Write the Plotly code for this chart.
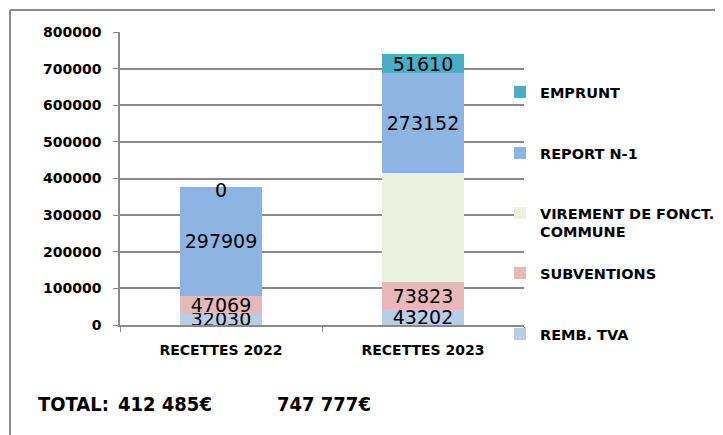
import plotly.graph_objects as go

categories = ["RECETTES 2022", "RECETTES 2023"]
remb_tva = [32030, 43202]
subventions = [47069, 73823]
virement = [0, 298000]
report = [297909, 273152]
emprunt = [0, 51610]
totals = ["412 485€", "747 777€"]
y_tickvals = [0, 100000, 200000, 300000, 400000, 500000, 600000, 700000, 800000]

series = [
    ("REMB. TVA", remb_tva, "#B9CDE5", True),
    ("SUBVENTIONS", subventions, "#E6B9B8", True),
    ("VIREMENT DE FONCT.<br>COMMUNE", virement, "#EBF1DE", False),
    ("REPORT N-1", report, "#8EB4E3", True),
    ("EMPRUNT", emprunt, "#4BACC6", True),
]

W, H = 723, 435
OFF = 8  # the page's body margin shifts the figure by this much
PL, PR, PT, PB = 120, 524, 32, 325  # plot area, in screen pixels


def px_x(px):
    return (px - PL) / (PR - PL)


def px_y(py):
    return (PB - py) / (PB - PT)


GRID = "#8a8a8a"
TXT = "#000000"
legend_y = [335, 274, 214, 154, 93]  # screen rows of legend entries (first line)

fig = go.Figure()
for i, (name, vals, col, lab) in enumerate(series):
    lid = "legend" if i == 0 else f"legend{i + 1}"
    fig.add_trace(go.Bar(
        name=name, x=categories, y=vals, marker=dict(color=col, line=dict(width=0)),
        text=[str(v) if (lab and v) else "" for v in vals],
        textposition="inside", insidetextanchor="middle", constraintext="none", textangle=0,
        textfont=dict(family="DejaVu Sans", size=19, color=TXT),
        width=0.405, legend=lid, showlegend=True,
    ))
    fig.update_layout({lid: dict(
        x=px_x(500), y=px_y(legend_y[i] - 17), xanchor="left", yanchor="top",
        bgcolor="rgba(0,0,0,0)", valign="top",
        font=dict(family="DejaVu Sans", size=14.5, weight="bold", color=TXT),
    )})

# zero-value labels that sit on top of the 2022 stack
stack_2022 = sum(s[1][0] for s in series)
for name, vals, col, lab in series:
    if lab and vals[0] == 0:
        fig.add_annotation(x=categories[0], y=stack_2022, text="0", showarrow=False,
                           yanchor="middle", yshift=-3,
                           font=dict(family="DejaVu Sans", size=19, color=TXT))

# totals under the chart
tot_font = dict(family="DejaVu Sans Condensed", size=20, weight="bold", color=TXT)
for xp, t in zip([73, 165, 324], ["TOTAL:"] + totals):
    fig.add_annotation(x=px_x(xp), y=px_y(404), xref="paper", yref="paper", text=t,
                       xanchor="center", yanchor="middle", showarrow=False, font=tot_font)

# outer frame (top and left edges)
fig.add_shape(type="line", xref="paper", yref="paper", x0=px_x(10), x1=px_x(W + 20),
              y0=px_y(10), y1=px_y(10), line=dict(color=GRID, width=2))
fig.add_shape(type="line", xref="paper", yref="paper", x0=px_x(10), x1=px_x(10),
              y0=px_y(10), y1=px_y(H + 20), line=dict(color=GRID, width=2))

fig.update_layout(
    barmode="stack", showlegend=True,
    width=W, height=H,
    margin=dict(l=PL - OFF, r=W - (PR - OFF), t=PT - OFF, b=H - (PB - OFF), autoexpand=False),
    plot_bgcolor="white", paper_bgcolor="white",
    font=dict(family="DejaVu Sans", color=TXT),
)
fig.update_xaxes(
    showline=True, linecolor=GRID, linewidth=1.5, ticks="outside", tickson="boundaries",
    ticklen=5, tickcolor=GRID, showgrid=False, automargin=False, ticklabelstandoff=11,
    tickfont=dict(family="DejaVu Sans", size=14, weight="bold", color=TXT),
)
fig.update_yaxes(
    range=[0, 800000], tickvals=y_tickvals, tickformat="d", automargin=False,
    showline=True, linecolor=GRID, linewidth=1.5, ticks="outside", ticklen=5, tickcolor=GRID,
    showgrid=True, gridcolor=GRID, gridwidth=1.5, zeroline=False, ticklabelstandoff=9,
    tickfont=dict(family="DejaVu Sans", size=14, weight="bold", color=TXT),
)

fig.write_html("out.html")
